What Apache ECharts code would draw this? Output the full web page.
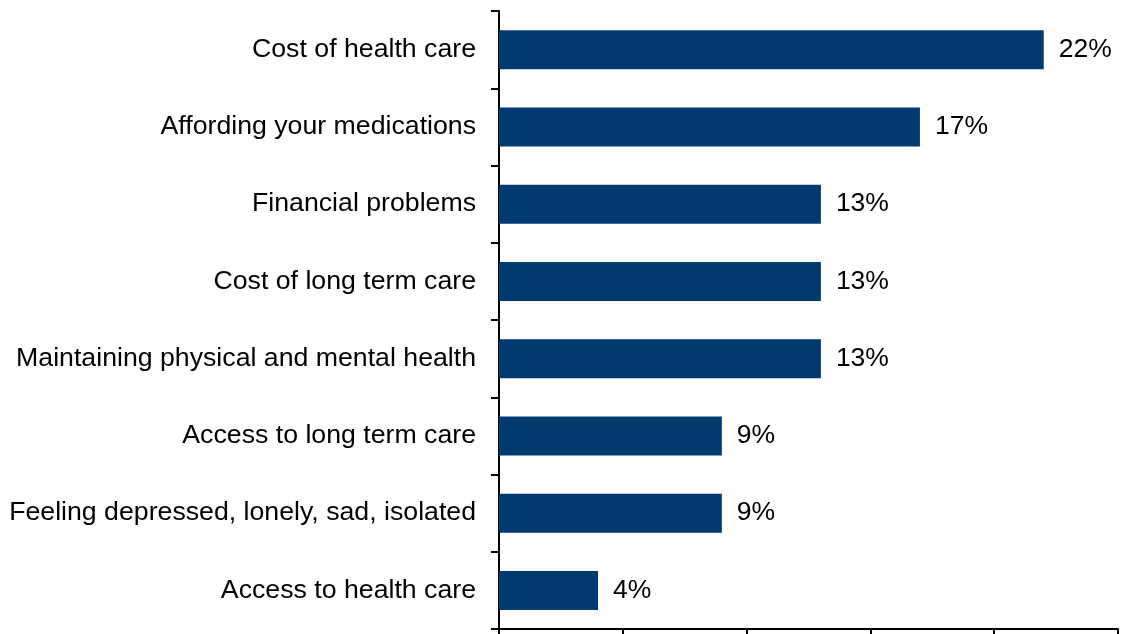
<html>
  <head>
    <title>Health concerns</title>
    <script src="https://cdn.jsdelivr.net/npm/echarts@6/dist/echarts.min.js"></script>
    <style>
      body {
        margin: 0px;
        background-color: white;
      }
      #chart {
        width: 1121px;
        height: 634px;
      }
    </style>
  </head>
  <body>
    <div id="chart"></div>
  </body>
</html>
<script type="text/javascript">
  // categories top to bottom
  const categories = [
    'Cost of health care',
    'Affording your medications',
    'Financial problems',
    'Cost of long term care',
    'Maintaining physical and mental health',
    'Access to long term care',
    'Feeling depressed, lonely, sad, isolated',
    'Access to health care'
  ]
  const values = [22, 17, 13, 13, 13, 9, 9, 4]
  const xTicks = [0, 5, 10, 15, 20, 25]

  const myChart = echarts.init(document.getElementById('chart'))

  let option = {
    animation: false,
    grid: { left: 499, right: 3, top: 11, bottom: 5 },
    xAxis: {
      type: 'value',
      min: xTicks[0],
      max: xTicks[xTicks.length - 1],
      interval: xTicks[1] - xTicks[0],
      axisLine: { show: true, lineStyle: { color: '#000', width: 2 } },
      axisTick: { show: true, length: 8, lineStyle: { color: '#000', width: 2 } },
      axisLabel: { show: false },
      splitLine: { show: false }
    },
    yAxis: {
      type: 'category',
      inverse: true,
      data: categories,
      axisLine: { show: true, lineStyle: { color: '#000', width: 2 } },
      axisTick: { show: true, length: 8, lineStyle: { color: '#000', width: 2 } },
      axisLabel: {
        margin: 23,
        color: '#000',
        fontSize: 26.7,
        lineHeight: 30,
        padding: [3, 0, 0, 0],
        fontFamily: 'Liberation Sans'
      }
    },
    series: [
      {
        type: 'bar',
        data: values,
        barWidth: 39,
        itemStyle: { color: '#003a70' },
        label: {
          show: true,
          position: 'right',
          distance: 15,
          formatter: '{c}%',
          color: '#000',
          fontSize: 26.5,
          padding: [3, 0, 0, 0],
          fontFamily: 'Liberation Sans'
        }
      }
    ]
  }

  myChart.setOption(option)
</script>
